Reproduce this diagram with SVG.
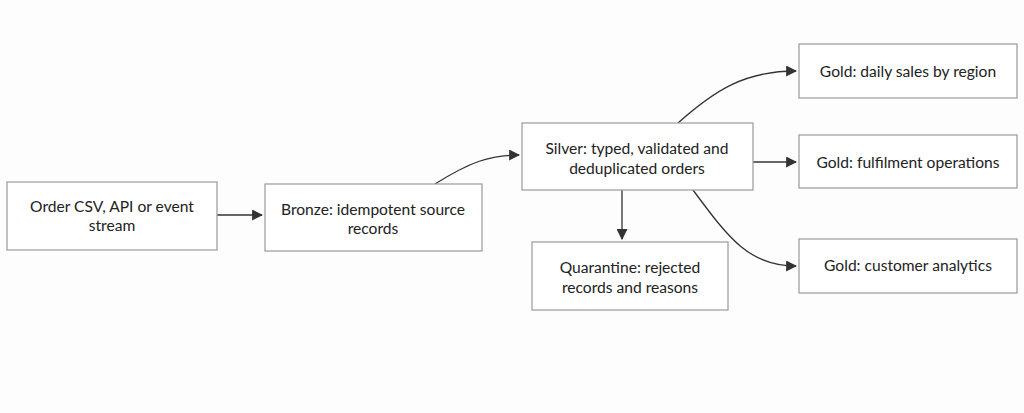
<svg xmlns="http://www.w3.org/2000/svg" width="1024" height="413" viewBox="0 0 1024 413">
<defs>
<style>
.box{fill:#ffffff;stroke:#9a9a9a;stroke-width:1.2}
.lbl{font-family:Lato,"Open Sans","Liberation Sans",sans-serif;font-size:15.6px;fill:#222222;text-anchor:middle}
.edge{fill:none;stroke:#333333;stroke-width:1.3}
</style>
<marker id="ah" viewBox="0 0 10 10" refX="9" refY="5" markerWidth="11" markerHeight="11" markerUnits="userSpaceOnUse" orient="auto">
<path d="M0,0 L10,5 L0,10 z" fill="#333333"/>
</marker>
</defs>
<rect width="1024" height="413" fill="#fdfdfd"/>
<g id="connectors">
<path class="edge" d="M217,215 L262,215" marker-end="url(#ah)"/>
<path class="edge" d="M435,184 C470,162 490,155 519,155" marker-end="url(#ah)"/>
<path class="edge" d="M622,190 L622,239" marker-end="url(#ah)"/>
<path class="edge" d="M753,162 L796,162" marker-end="url(#ah)"/>
<path class="edge" d="M678,123 C715,90 745,71 796,71" marker-end="url(#ah)"/>
<path class="edge" d="M693,190 C730,240 750,266 796,266" marker-end="url(#ah)"/>
</g>
<g id="source">
<rect class="box" x="7" y="182" width="210" height="68"/>
<text class="lbl" x="112" y="212">Order CSV, API or event</text>
<text class="lbl" x="112" y="231">stream</text>
</g>
<g id="bronze">
<rect class="box" x="265" y="184" width="217" height="67"/>
<text class="lbl" x="373" y="215">Bronze: idempotent source</text>
<text class="lbl" x="373" y="234">records</text>
</g>
<g id="silver">
<rect class="box" x="522" y="123" width="231" height="67"/>
<text class="lbl" x="637" y="154">Silver: typed, validated and</text>
<text class="lbl" x="637" y="174">deduplicated orders</text>
</g>
<g id="quarantine">
<rect class="box" x="532" y="242" width="196" height="68"/>
<text class="lbl" x="630" y="273">Quarantine: rejected</text>
<text class="lbl" x="630" y="293">records and reasons</text>
</g>
<g id="gold-sales">
<rect class="box" x="799" y="44" width="218" height="54"/>
<text class="lbl" x="908" y="77">Gold: daily sales by region</text>
</g>
<g id="gold-fulfilment">
<rect class="box" x="799" y="135" width="218" height="53"/>
<text class="lbl" x="908" y="168">Gold: fulfilment operations</text>
</g>
<g id="gold-customer">
<rect class="box" x="799" y="239" width="218" height="54"/>
<text class="lbl" x="908" y="271">Gold: customer analytics</text>
</g>
</svg>
